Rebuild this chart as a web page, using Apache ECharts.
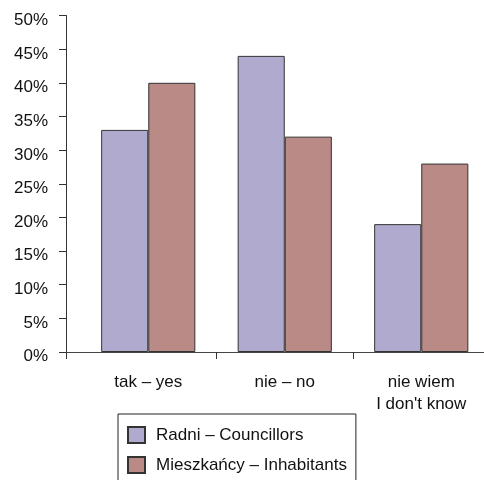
<!DOCTYPE html>
<html>
<head>
<meta charset="utf-8">
<script src="https://cdn.jsdelivr.net/npm/echarts@6/dist/echarts.min.js"></script>
<style>html,body{margin:0;padding:0;background:#fff}#c{width:484px;height:480px}</style>
</head>
<body>
<div id="c"></div>
<script>
const categories = ['tak – yes', 'nie – no', 'nie wiem\nI don\'t know'];
const seriesNames = ['Radni – Councillors', 'Mieszkańcy – Inhabitants'];
const councillors = [33, 44, 19];
const inhabitants = [40, 32, 28];
const yTicks = [0, 5, 10, 15, 20, 25, 30, 35, 40, 45, 50];

const FONT = '"Liberation Sans", Arial, sans-serif';
const chart = echarts.init(document.getElementById('c'), null, {renderer: 'canvas'});
chart.setOption({
  animation: false,
  backgroundColor: '#fff',
  textStyle: {fontFamily: FONT},
  grid: [
    {left: 80, right: -5.5, top: 15.5, bottom: 128, outerBoundsMode: 'none', containLabel: false},
    {left: 66, right: 0, top: 15.5, bottom: 128, outerBoundsMode: 'none', containLabel: false}
  ],
  legend: {
    orient: 'vertical',
    left: 118,
    top: 414,
    height: 120,
    padding: [12, 9, 12, 9],
    icon: 'rect',
    itemWidth: 17,
    itemHeight: 16,
    itemGap: 12,
    borderColor: '#222',
    borderWidth: 1,
    textStyle: {fontSize: 17, color: '#111', fontFamily: FONT, padding: [0, 0, 0, 6]},
    data: seriesNames
  },
  xAxis: [
    {
      type: 'category',
      gridIndex: 0,
      data: categories,
      axisLine: {show: false},
      axisTick: {show: true, length: 7, interval: function (i) { return i > 0; }, lineStyle: {color: '#333'}},
      axisLabel: {fontSize: 17, color: '#111', margin: 20, lineHeight: 21.5, fontFamily: FONT, interval: 0}
    },
    {
      type: 'value',
      gridIndex: 1,
      min: 0,
      max: 1,
      axisLine: {show: true, lineStyle: {color: '#444', width: 1}},
      axisTick: {show: true, length: 7, customValues: [0], lineStyle: {color: '#333'}},
      axisLabel: {show: false},
      splitLine: {show: false}
    }
  ],
  yAxis: [
    {
      type: 'value', gridIndex: 0, min: 0, max: 50, interval: 5,
      show: false, splitLine: {show: false}
    },
    {
      type: 'value', gridIndex: 1, min: yTicks[0], max: yTicks[yTicks.length - 1], interval: 5,
      axisLine: {show: true, lineStyle: {color: '#333'}},
      axisTick: {show: true, length: 7, lineStyle: {color: '#333'}},
      splitLine: {show: false},
      axisLabel: {fontSize: 17, color: '#111', margin: 18, verticalAlign: 'top', lineHeight: 9.5, fontFamily: FONT, formatter: '{value}%'}
    }
  ],
  series: [
    {
      name: seriesNames[0], type: 'bar', xAxisIndex: 0, yAxisIndex: 0,
      data: councillors, barGap: 0, barCategoryGap: '31%',
      itemStyle: {color: '#B1AACF', borderColor: '#333', borderWidth: 1}
    },
    {
      name: seriesNames[1], type: 'bar', xAxisIndex: 0, yAxisIndex: 0,
      data: inhabitants, barGap: 0, barCategoryGap: '31%',
      itemStyle: {color: '#B98A86', borderColor: '#333', borderWidth: 1}
    }
  ]
});
</script>
</body>
</html>
